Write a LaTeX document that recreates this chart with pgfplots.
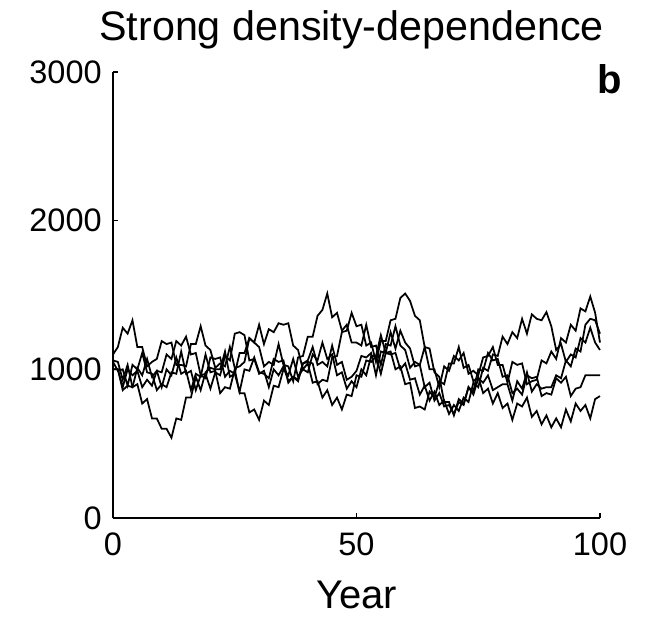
\documentclass[border=0pt]{standalone}
\usepackage{fontspec}
\setmainfont{Liberation Sans}
\usepackage{pgfplots}
\usepackage{pgfplotstable}
\pgfplotsset{compat=1.18}

% population trajectories, one column per run
\pgfplotstableread{
t a b c d e
0 1060 1100 1000 1050 1000
1 1050 1150 1000 990 1000
2 930 1280 880 1000 860
3 1030 1240 1000 890 890
4 880 1330 960 1030 880
5 900 1150 990 1000 1010
6 770 1150 880 1110 960
7 800 1020 930 980 1070
8 670 1050 890 970 950
9 670 1070 990 860 990
10 600 1190 980 900 880
11 600 1170 1100 880 1000
12 540 1180 1070 980 960
13 670 1030 1190 970 1080
14 660 1030 1160 1120 970
15 810 1020 1220 970 990
16 810 1170 1100 990 860
17 950 1170 1110 860 970
18 860 1290 960 960 950
19 980 1160 970 940 1100
20 1010 1130 870 1080 980
21 1000 1010 980 1070 990
22 1000 1040 960 1080 840
23 1120 1020 1090 950 880
24 950 1150 1060 990 870
25 970 1010 1240 970 1000
26 850 1020 1250 1110 840
27 1000 1050 1230 1110 840
28 990 1210 1060 1210 710
29 1080 1180 1070 1180 730
30 980 1150 970 1300 660
31 970 1020 990 1170 790
32 940 1050 880 1270 760
33 1070 1030 1000 1250 890
34 1050 1170 960 1310 880
35 1060 1030 1020 1300 1000
36 910 1020 920 1310 960
37 950 920 950 1160 1070
38 930 1080 920 1130 950
39 1040 1090 1040 1000 1000
40 1060 1220 1050 1040 980
41 1150 1220 1040 910 1100
42 1030 1360 900 920 1060
43 1050 1400 930 810 1180
44 1020 1510 920 860 1070
45 1160 1350 1080 760 1100
46 1030 1380 1090 810 960
47 1050 1260 1250 730 980
48 930 1300 1260 830 870
49 950 1180 1380 820 920
50 990 1180 1290 960 880
51 1090 1160 1300 950 1000
52 1080 1300 1160 1060 960
53 1110 1150 1180 1050 1090
54 960 1160 1050 1090 1090
55 1120 1030 1190 970 1230
56 1110 1170 1190 1110 1110
57 1250 1160 1330 1100 1120
58 1140 1290 1340 1110 1000
59 1260 1160 1480 1000 1020
60 1180 1130 1510 1040 900
61 1140 1010 1460 930 910
62 1020 1050 1360 940 740
63 1030 1030 1330 830 750
64 880 1150 1150 890 730
65 910 1000 1140 790 850
66 790 1000 980 850 810
67 840 880 950 760 920
68 750 1020 780 790 900
69 760 990 780 700 1040
70 700 1090 690 760 1040
71 780 1060 800 720 1150
72 760 1110 770 810 1010
73 880 970 880 780 1030
74 830 990 850 910 920
75 940 960 1000 880 950
76 910 1080 990 1010 840
77 960 1090 1110 990 870
78 860 1150 1060 1100 770
79 880 1030 1070 1090 840
80 900 1030 950 1220 740
81 900 910 960 1170 770
82 790 1050 840 1250 660
83 920 1030 870 1210 770
84 870 1040 830 1340 750
85 980 900 960 1240 810
86 850 920 940 1370 680
87 900 930 950 1340 720
88 870 1060 820 1330 630
89 880 1040 840 1385 690
90 880 1120 830 1290 610
91 960 1070 940 1130 670
92 940 1210 910 1170 610
93 1060 1180 950 1050 730
94 1020 1300 820 1100 650
95 1140 1260 870 1080 770
96 1120 1410 880 1210 720
97 1300 1390 960 1180 760
98 1340 1490 960 1280 670
99 1330 1380 960 1180 800
100 1240 1180 960 1130 820
}\runs

\begin{document}
\begin{tikzpicture}[x=0.4pt,y=0.4pt]
\begin{axis}[
    at={(0,0)}, anchor=south west,
    scale only axis,
    width=194.8pt, height=178.4pt,
    xmin=0, xmax=100,
    ymin=0, ymax=3000,
    axis lines=left,
    axis line style={-, line width=0.8pt},
    tick align=inside,
    major tick length=2.2pt,
    tick style={line width=0.6pt, black},
    xtick={0,50,100},
    ytick={0,1000,2000,3000},
    scaled ticks=false,
    /pgf/number format/assume math mode=true,
    /pgf/number format/1000 sep={},
    ticklabel style={font=\fontsize{13}{14}\selectfont},
    xticklabel style={yshift=-2.4pt},
    yticklabel style={xshift=-1pt},
    xlabel={Year},
    xlabel style={font=\fontsize{16}{18}\selectfont, at={(axis description cs:0.5,-0.172)}, anchor=center},
    title={Strong density-dependence},
    title style={font=\fontsize{16.5}{18}\selectfont, at={(axis description cs:0.49,1.06)}, anchor=center},
    clip=false,
]
\addplot[black, no marks, line width=0.7pt] table[x=t, y=a] {\runs};
\addplot[black, no marks, line width=0.7pt] table[x=t, y=b] {\runs};
\addplot[black, no marks, line width=0.7pt] table[x=t, y=c] {\runs};
\addplot[black, no marks, line width=0.7pt] table[x=t, y=d] {\runs};
\addplot[black, no marks, line width=0.7pt] table[x=t, y=e] {\runs};
\node[font=\fontsize{16}{18}\selectfont\bfseries, anchor=center] at (axis description cs:1.02,0.983) {b};
\end{axis}
\pgfresetboundingbox
\useasboundingbox (-113,-98) rectangle (541,518);
\end{tikzpicture}
\end{document}
